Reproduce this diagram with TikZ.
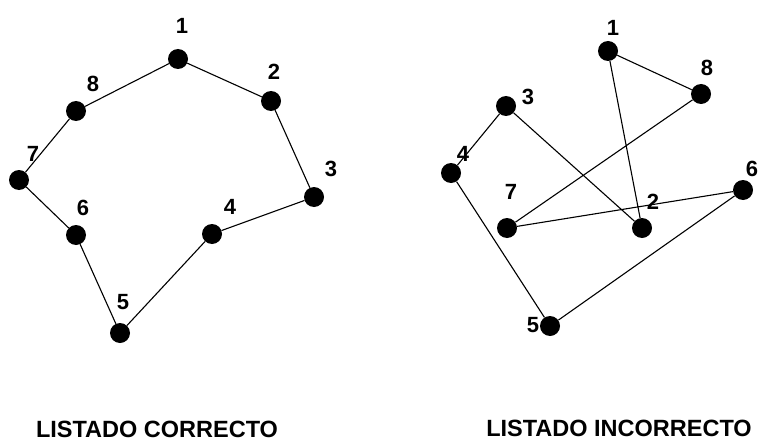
\documentclass[tikz,border=0pt]{standalone}
\usepackage{fontspec}
\setmainfont{Liberation Sans}
\begin{document}
\begin{tikzpicture}[x=1pt,y=-1pt,
 dot/.style={circle,fill=black,inner sep=0pt,minimum size=20pt},
 num/.style={font=\fontsize{22}{22}\selectfont\bfseries,inner sep=0pt},
 ttl/.style={font=\fontsize{23.5}{23.5}\selectfont\bfseries,inner sep=0pt,anchor=base},
 edge/.style={line width=1.1pt}]
\useasboundingbox (0,0) rectangle (759,441);
% left: correct listing
\node[dot] (a1) at (178,59) {};
\node[dot] (a2) at (271,101) {};
\node[dot] (a3) at (314,197) {};
\node[dot] (a4) at (212,234) {};
\node[dot] (a5) at (120,333) {};
\node[dot] (a6) at (76,235) {};
\node[dot] (a7) at (19,180) {};
\node[dot] (a8) at (76,111) {};
\node[num] (la1) at (182,26) {1};
\node[num] (la2) at (274,72) {2};
\node[num] (la3) at (331,169) {3};
\node[num] (la4) at (230,207) {4};
\node[num] (la5) at (123,302) {5};
\node[num] (la6) at (83,208) {6};
\node[num] (la7) at (33,154) {7};
\node[num] (la8) at (93,84) {8};
\draw[edge] (a1) -- (a2) -- (a3) -- (a4) -- (a5) -- (a6) -- (a7) -- (a8) -- (a1);
% right: incorrect listing
\node[dot] (b1) at (608,51) {};
\node[dot] (b8) at (701,94) {};
\node[dot] (b3) at (506,106) {};
\node[dot] (b4) at (451,173) {};
\node[dot] (b7) at (507,228) {};
\node[dot] (b2) at (642,228) {};
\node[dot] (b6) at (743,190) {};
\node[dot] (b5) at (550,326) {};
\node[num] (lb1) at (613,28) {1};
\node[num] (lb8) at (707,68) {8};
\node[num] (lb3) at (528,97) {3};
\node[num] (lb4) at (463,154) {4};
\node[num] (lb7) at (511,192) {7};
\node[num] (lb2) at (653,202) {2};
\node[num] (lb6) at (752,169) {6};
\node[num] (lb5) at (533,325) {5};
\draw[edge] (b1) -- (b2) -- (b3) -- (b4) -- (b5) -- (b6) -- (b7) -- (b8) -- (b1);
% titles
\node[ttl] (t1) at (157,437.5) {LISTADO CORRECTO};
\node[ttl] (t2) at (619,436.5) {LISTADO INCORRECTO};
\end{tikzpicture}
\end{document}
